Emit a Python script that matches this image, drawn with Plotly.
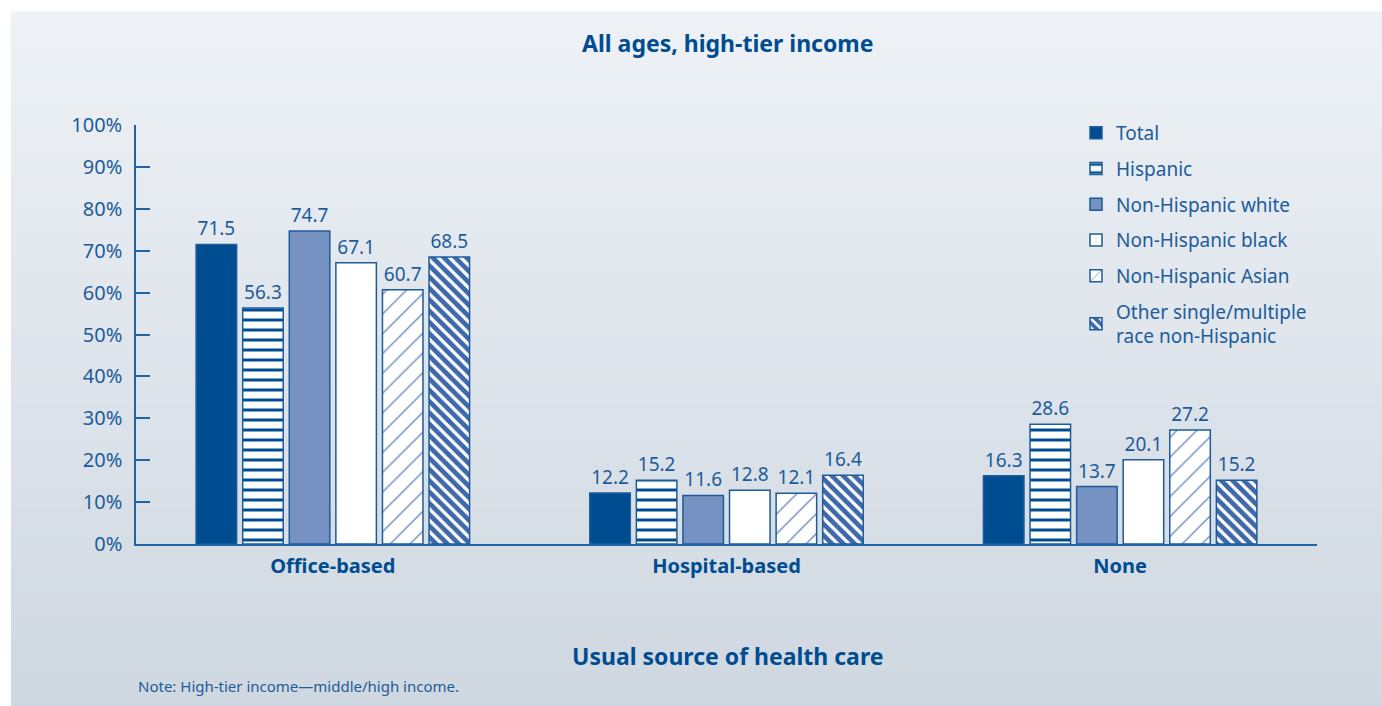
import plotly.graph_objects as go

# Usual source of health care, all ages, high-tier income (percent)
categories = ["Office-based", "Hospital-based", "None"]
series_names = [
    "Total",
    "Hispanic",
    "Non-Hispanic white",
    "Non-Hispanic black",
    "Non-Hispanic Asian",
    "Other single/multiple<br>race non-Hispanic",
]
total = [71.5, 12.2, 16.3]
hispanic = [56.3, 15.2, 28.6]
nh_white = [74.7, 11.6, 13.7]
nh_black = [67.1, 12.8, 20.1]
nh_asian = [60.7, 12.1, 27.2]
other = [68.5, 16.4, 15.2]
y_ticks = [0, 10, 20, 30, 40, 50, 60, 70, 80, 90, 100]

series_values = [total, hispanic, nh_white, nh_black, nh_asian, other]

DARK = "#004C91"
MID = "#7592C2"
TEXT = "#1D5C9A"
LINE = "#2064A6"
FONT = "Noto Sans"

styles = [
    dict(color=DARK),
    dict(color="white", pattern=dict(shape="-", fgcolor=DARK, bgcolor="white",
                                     size=10, solidity=0.3, fillmode="replace",
                                     fgopacity=1)),
    dict(color=MID),
    dict(color="white"),
    dict(color="white", pattern=dict(shape="/", fgcolor=MID, bgcolor="white",
                                     size=14, solidity=0.11, fillmode="replace",
                                     fgopacity=1)),
    dict(color="#3E68AA", pattern=dict(shape="\\", fgcolor="white", bgcolor="#3E68AA",
                                       size=8, solidity=0.4, fillmode="replace",
                                       fgopacity=1)),
]

fig = go.Figure()
for name, vals, st in zip(series_names, series_values, styles):
    fig.add_trace(go.Bar(
        name=name,
        x=categories,
        y=vals,
        marker=dict(**st, line=dict(color=TEXT, width=1.5)),
        text=[f"{v:.1f}" for v in vals],
        textposition="outside",
        cliponaxis=False,
        textfont=dict(family=FONT, size=19, color=TEXT),
        legendgroup=name,
    ))

# Background panel: vertical gradient built from thin bands
L, R, T, B = 136, 65, 125, 162
W, H = 1382, 706
pw, ph = W - L - R, H - T - B


def px_x(px):
    return (px - L) / pw


def px_y(py):
    return (H - B - py) / ph


top_rgb = (238, 242, 246)
bot_rgb = (207, 215, 224)
n_bands = 60
y0, y1 = 12, H
shapes = []
for i in range(n_bands):
    a = y0 + (y1 - y0) * i / n_bands
    b = y0 + (y1 - y0) * (i + 1) / n_bands
    t = (i + 0.5) / n_bands
    c = tuple(round(top_rgb[k] + (bot_rgb[k] - top_rgb[k]) * t) for k in range(3))
    shapes.append(dict(
        type="rect", xref="paper", yref="paper",
        x0=px_x(11), x1=px_x(W + 2), y0=px_y(a - 0.5), y1=px_y(b + 0.5),
        fillcolor=f"rgb{c}", line=dict(width=0), layer="below",
    ))

fig.update_layout(
    width=W, height=H,
    margin=dict(l=L, r=R, t=T, b=B),
    paper_bgcolor="white",
    plot_bgcolor="rgba(0,0,0,0)",
    barmode="group",
    bargap=0.29,
    bargroupgap=0.13,
    shapes=shapes,
    font=dict(family=FONT, color=TEXT),
    showlegend=True,
    legend=dict(
        x=px_x(1076), y=px_y(114), xanchor="left", yanchor="top",
        bgcolor="rgba(0,0,0,0)",
        font=dict(family=FONT, size=19, color=TEXT),
        tracegroupgap=8,
        itemwidth=30,
    ),
    xaxis=dict(
        showline=True, linecolor=LINE, linewidth=1.5,
        ticks="", showgrid=False,
        tickfont=dict(family=FONT, size=20, color=DARK, weight="bold"),
        ticklabelstandoff=3,
    ),
    yaxis=dict(
        range=[0, 100], tickvals=y_ticks, ticktext=[f"{v}%" for v in y_ticks],
        showline=True, linecolor=LINE, linewidth=1.5,
        ticks="inside", ticklen=14, tickcolor=LINE, tickwidth=1.5,
        showgrid=False, zeroline=False,
        tickfont=dict(family=FONT, size=20, color=TEXT),
        ticklabelstandoff=8,
    ),
    annotations=[
        dict(text="<b>All ages, high-tier income</b>", xref="paper", yref="paper",
             x=px_x(727), y=px_y(43), xanchor="center", yanchor="middle",
             showarrow=False, font=dict(family=FONT, size=23, color=DARK)),
        dict(text="<b>Usual source of health care</b>", xref="paper", yref="paper",
             x=px_x(727), y=px_y(656), xanchor="center", yanchor="middle",
             showarrow=False, font=dict(family=FONT, size=23, color=DARK)),
        dict(text="Note: High-tier income\u2014middle/high income.", xref="paper", yref="paper",
             x=px_x(136), y=px_y(686), xanchor="left", yanchor="middle",
             showarrow=False, font=dict(family=FONT, size=15, color=TEXT)),
    ],
)

fig.write_html("out.html")
